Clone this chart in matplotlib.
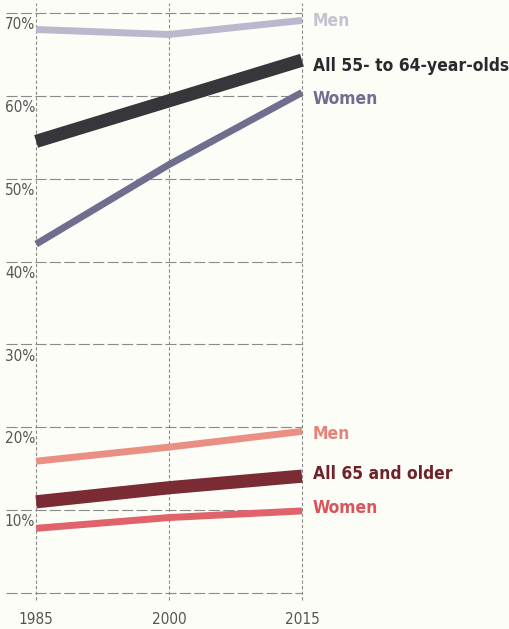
import matplotlib
matplotlib.use("Agg")
import matplotlib.pyplot as plt

years = [1985, 2000, 2015]
men_55_64 = [68.0, 67.4, 69.1]
all_55_64 = [54.5, 59.4, 64.3]
women_55_64 = [42.1, 51.7, 60.4]
men_65 = [15.9, 17.6, 19.5]
all_65 = [11.0, 12.7, 14.1]
women_65 = [7.8, 9.1, 9.9]
y_ticks = [10, 20, 30, 40, 50, 60, 70]
y_tick_labels = ["10%", "20%", "30%", "40%", "50%", "60%", "70%"]
x_tick_labels = ["1985", "2000", "2015"]

series = [
    (men_55_64, "Men", "#b9b8cc", 5.0, "bold", "#c4c3d4"),
    (all_55_64, "All 55- to 64-year-olds", "#36363b", 9.5, "bold", "#2a2a2e"),
    (women_55_64, "Women", "#6f6e8e", 5.0, "bold", "#6f6e8e"),
    (men_65, "Men", "#ea8f84", 5.0, "bold", "#e5837a"),
    (all_65, "All 65 and older", "#7b2b33", 9.5, "bold", "#6e2229"),
    (women_65, "Women", "#e0626a", 5.0, "bold", "#d9545c"),
]
label_y = [69.0, 63.6, 59.6, 19.2, 14.4, 10.2]

bg = "#fdfdf8"
fig = plt.figure(figsize=(5.09, 6.29), dpi=100, facecolor=bg)
ax = fig.add_axes([6/509, 29/629, (304.6-6)/509, (600-3)/629])
ax.set_facecolor(bg)
ax.set_xlim(1981.6, 2015.3)
ax.set_ylim(-0.85, 71.2)
for s in ax.spines.values():
    s.set_visible(False)
ax.set_xticks([])
ax.set_yticks([])

hgrid_kw = dict(color="#8a8a8a", lw=0.8, ls=(0, (10, 3)), zorder=1)
vgrid_kw = dict(color="#8a8a8a", lw=0.8, ls=(0, (3, 2)), zorder=1)
for yv in [0] + y_ticks:
    ax.plot([1981.6, 2015.0], [yv, yv], **hgrid_kw)
for xv in years:
    ax.plot([xv, xv], [-0.85, 71.2], clip_on=False, **vgrid_kw)

for yv, lab in zip(y_ticks, y_tick_labels):
    ax.text(1984.9, yv - 0.5, lab, ha="right", va="top", fontsize=11,
            color="#555555", family="DejaVu Sans", fontstretch="condensed")
for xv, lab in zip(years, x_tick_labels):
    ax.text(xv, -2.3, lab, ha="center", va="top", fontsize=11,
            color="#555555", family="DejaVu Sans", fontstretch="condensed",
            clip_on=False)

for (vals, name, col, lw, fw, tcol), ly in zip(series, label_y):
    ax.plot(years, vals, color=col, lw=lw, solid_capstyle="butt", zorder=3)
    ax.text(2016.2, ly, name, ha="left", va="center", fontsize=12.5,
            color=tcol, fontweight=fw, family="DejaVu Sans",
            fontstretch="condensed", clip_on=False)

fig.savefig("out.png", dpi=100, facecolor=bg)
